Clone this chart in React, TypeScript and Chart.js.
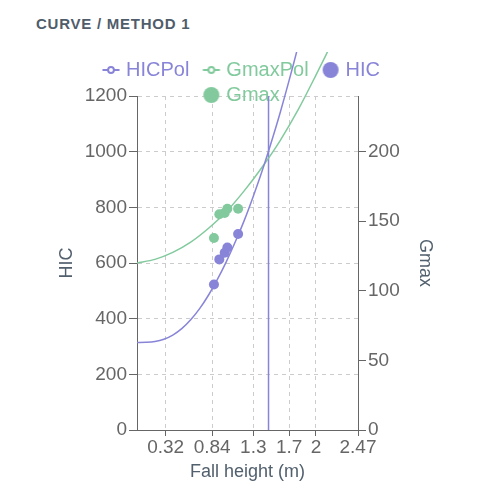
import React, { useEffect, useRef } from 'react';
import { Chart, registerables } from 'chart.js';

Chart.register(...registerables);

const FONT = "'Liberation Sans', Arial, Helvetica, sans-serif";
const PURPLE = '#8884d8';
const GREEN = '#82ca9d';
const AXIS = '#666666';
const GRID = '#cccccc';
const TITLE = '#52606e';

// axis ticks
const xTicks = [0.32, 0.84, 1.3, 1.7, 2, 2.47];
const hicTicks = [0, 200, 400, 600, 800, 1000, 1200];
const gmaxTicks = [0, 50, 100, 150, 200];

// HIC polynomial curve
const hicPolX = [0, 0.1, 0.2, 0.3, 0.4, 0.5, 0.6, 0.7, 0.8, 0.9, 1.0, 1.1, 1.2, 1.3, 1.4, 1.5, 1.6, 1.7, 1.8, 1.9];
const hicPolY = [314, 315, 318, 326, 341, 364, 396, 436, 485, 542, 606, 677, 754, 840, 932, 1033, 1140, 1256, 1378, 1509];

// Gmax polynomial curve
const gmaxPolX = [0, 0.2, 0.4, 0.6, 0.8, 1.0, 1.2, 1.4, 1.6, 1.8, 2.0, 2.2];
const gmaxPolY = [120, 122.6, 127.6, 135, 145, 157, 172, 189, 208, 230, 255, 281];

// measured drops
const testX = [0.86, 0.92, 0.98, 1.01, 1.13];
const testHIC = [523, 613, 637, 656, 704];
const testGmax = [138, 155, 156, 159, 159];

// critical height marker (HIC = 1000)
const criticalX = [1.47, 1.47];
const criticalY = [0, 1200];

function lineIcon(color: string) {
  const c = document.createElement('canvas');
  c.width = 40;
  c.height = 20;
  const ctx = c.getContext('2d')!;
  const cx = 26;
  const cy = 10;
  const half = 8.5;
  const r = 2.9;
  ctx.strokeStyle = color;
  ctx.lineWidth = 2;
  ctx.beginPath();
  ctx.moveTo(cx - half, cy);
  ctx.lineTo(cx - r, cy);
  ctx.moveTo(cx + r, cy);
  ctx.lineTo(cx + half, cy);
  ctx.stroke();
  ctx.beginPath();
  ctx.arc(cx, cy, r, 0, Math.PI * 2);
  ctx.stroke();
  return c;
}

function dotIcon(color: string) {
  const c = document.createElement('canvas');
  c.width = 40;
  c.height = 20;
  const ctx = c.getContext('2d')!;
  ctx.fillStyle = color;
  ctx.beginPath();
  ctx.arc(26, 10, 8, 0, Math.PI * 2);
  ctx.fill();
  return c;
}

const legendFix = {
  id: 'legendFix',
  afterLayout(chart: any) {
    const l = chart.legend;
    if (l) {
      l.height = 90;
      l.bottom = l.top + 90;
    }
  },
};

export default function App() {
  const ref = useRef<HTMLCanvasElement | null>(null);

  useEffect(() => {
    if (!ref.current) return;
    const icons = [lineIcon(PURPLE), lineIcon(GREEN), dotIcon(PURPLE), dotIcon(GREEN)];
    const colors = [PURPLE, GREEN, PURPLE, GREEN];
    const names = ['HICPol', 'GmaxPol', 'HIC', 'Gmax'];
    const clipTop = { left: 0, top: 44, right: 0, bottom: 0 };

    const chart = new Chart(ref.current, {
      type: 'scatter',
      data: {
        datasets: [
          {
            label: 'HICPol',
            data: hicPolX.map((x, i) => ({ x, y: hicPolY[i] })),
            yAxisID: 'y',
            showLine: true,
            borderColor: PURPLE,
            backgroundColor: PURPLE,
            borderWidth: 1.5,
            pointRadius: 0,
            tension: 0.3,
            clip: clipTop,
          } as any,
          {
            label: 'GmaxPol',
            data: gmaxPolX.map((x, i) => ({ x, y: gmaxPolY[i] })),
            yAxisID: 'y1',
            showLine: true,
            borderColor: GREEN,
            backgroundColor: GREEN,
            borderWidth: 1.5,
            pointRadius: 0,
            tension: 0.3,
            clip: clipTop,
          } as any,
          {
            label: 'HIC',
            data: testX.map((x, i) => ({ x, y: testHIC[i] })),
            yAxisID: 'y',
            backgroundColor: PURPLE,
            pointBackgroundColor: PURPLE,
            pointBorderWidth: 0,
            pointRadius: 5,
            pointHoverRadius: 5,
          } as any,
          {
            label: 'Gmax',
            data: testX.map((x, i) => ({ x, y: testGmax[i] })),
            yAxisID: 'y1',
            backgroundColor: GREEN,
            pointBackgroundColor: GREEN,
            pointBorderWidth: 0,
            pointRadius: 5,
            pointHoverRadius: 5,
          } as any,
          {
            label: 'Critical',
            data: criticalX.map((x, i) => ({ x, y: criticalY[i] })),
            yAxisID: 'y',
            showLine: true,
            borderColor: PURPLE,
            borderWidth: 1.5,
            pointRadius: 0,
          } as any,
        ],
      },
      options: {
        animation: false,
        responsive: true,
        maintainAspectRatio: false,
        layout: { padding: { top: 5, left: 40, right: 66, bottom: 0 } },
        plugins: {
          legend: {
            position: 'top',
            maxHeight: 41,
            labels: {
              usePointStyle: true,
              pointStyleWidth: 22,
              padding: 5,
              font: { size: 20, family: FONT },
              generateLabels: () =>
                names.map((n, i) => ({
                  text: n,
                  fillStyle: colors[i],
                  strokeStyle: colors[i],
                  fontColor: colors[i],
                  lineWidth: 0,
                  pointStyle: icons[i],
                  hidden: false,
                  datasetIndex: i,
                })) as any,
            },
          } as any,
          tooltip: { enabled: false },
        },
        scales: {
          x: {
            type: 'linear',
            position: 'bottom',
            min: 0,
            max: 2.47,
            afterBuildTicks: (s: any) => {
              s.ticks = xTicks.map((v) => ({ value: v }));
            },
            afterFit: (s: any) => {
              s.height = 62;
            },
            grid: {
              color: (c: any) => (c.tick && c.tick.value === 2.47 ? 'rgba(0,0,0,0)' : GRID),
              tickColor: AXIS,
              tickLength: 6,
              tickBorderDash: [],
            } as any,
            border: { color: AXIS, width: 1, dash: [4, 4] },
            ticks: {
              color: AXIS,
              font: { size: 19, family: FONT },
              padding: 0,
              autoSkip: false,
              maxRotation: 0,
              callback: (v: any) => String(v),
            },
            title: {
              display: true,
              text: 'Fall height (m)',
              color: TITLE,
              font: { size: 18, family: FONT },
              padding: { top: 0, bottom: 9.2 },
            },
          } as any,
          y: {
            type: 'linear',
            position: 'left',
            min: 0,
            max: 1200,
            afterBuildTicks: (s: any) => {
              s.ticks = hicTicks.map((v) => ({ value: v }));
            },
            afterFit: (s: any) => {
              s.width = 89;
            },
            grid: {
              color: (c: any) => (c.tick && c.tick.value === 0 ? 'rgba(0,0,0,0)' : GRID),
              tickColor: AXIS,
              tickLength: 8,
              tickBorderDash: [],
            } as any,
            border: { color: AXIS, width: 1, dash: [4, 4] },
            ticks: {
              color: AXIS,
              font: { size: 19, family: FONT },
              padding: 2,
              callback: (v: any) => String(v),
            },
            title: {
              display: true,
              text: 'HIC',
              color: TITLE,
              font: { size: 18, family: FONT },
              padding: { top: 8.2, bottom: 0 },
            },
          } as any,
          y1: {
            type: 'linear',
            position: 'right',
            min: 0,
            max: 240,
            afterBuildTicks: (s: any) => {
              s.ticks = gmaxTicks.map((v) => ({ value: v }));
            },
            afterFit: (s: any) => {
              s.width = 68;
            },
            grid: {
              drawOnChartArea: false,
              tickColor: AXIS,
              tickLength: 8,
            },
            border: { color: AXIS, width: 1 },
            ticks: {
              color: AXIS,
              font: { size: 19, family: FONT },
              padding: 2,
              callback: (v: any) => String(v),
            },
            title: {
              display: true,
              text: 'Gmax',
              color: TITLE,
              font: { size: 18, family: FONT },
              padding: { top: -9.8, bottom: 0 },
            },
          } as any,
        },
      },
      plugins: [legendFix as any],
    });
    return () => chart.destroy();
  }, []);

  return (
    <div style={{ position: 'relative', width: 484, height: 484, fontFamily: FONT }}>
      <div
        style={{
          position: 'absolute',
          left: 28,
          top: 7,
          fontSize: 15,
          fontWeight: 700,
          letterSpacing: '0.75px',
          lineHeight: '18px',
          color: '#4f5d6b',
          whiteSpace: 'nowrap',
        }}
      >
        CURVE / METHOD 1
      </div>
      <div style={{ position: 'absolute', left: 0, top: 42, width: 484, height: 442 }}>
        <canvas ref={ref} />
      </div>
    </div>
  );
}
